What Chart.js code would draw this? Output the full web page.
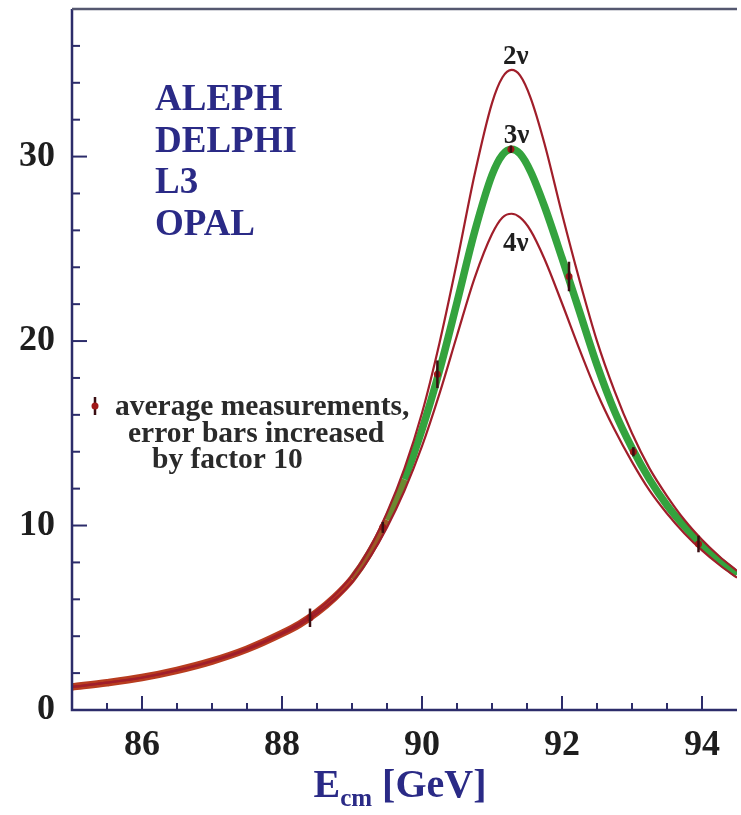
<!DOCTYPE html>
<html>
<head>
<meta charset="utf-8">
<script src="https://cdn.jsdelivr.net/npm/chart.js@4.4.0/dist/chart.umd.min.js"></script>
<style>
  html, body { margin: 0; padding: 0; background: #fff; }
  #wrap { width: 741px; height: 815px; position: relative; }
</style>
</head>
<body>
<div id="wrap"><canvas id="lineshape"></canvas></div>
<script>
// hadronic cross section around the Z pole, for 2, 3 and 4 light neutrinos
const energyGrid = [85.0, 85.5, 86.0, 86.5, 87.0, 87.5, 88.0, 88.25, 88.5, 88.75, 89.0, 89.25, 89.5, 89.75,
  90.0, 90.25, 90.5, 90.75, 91.0, 91.15, 91.28, 91.4, 91.55, 91.75, 92.0, 92.25, 92.5, 92.75,
  93.0, 93.25, 93.5, 93.75, 94.0, 94.25, 94.5];
const sigma2nu = [1.25, 1.48, 1.76, 2.16, 2.67, 3.33, 4.19, 4.72, 5.39, 6.22, 7.28, 8.76, 10.7, 13.1,
  16.1, 19.9, 24.3, 29.0, 32.9, 34.3, 34.7, 34.4, 33.2, 30.7, 26.9, 23.3, 20.0, 17.3,
  15.0, 13.1, 11.6, 10.3, 9.23, 8.32, 7.54];
const sigma3nu = [1.25, 1.48, 1.76, 2.15, 2.65, 3.3, 4.15, 4.65, 5.3, 6.1, 7.1, 8.5, 10.3, 12.5,
  15.2, 18.4, 22.1, 25.9, 29.0, 30.1, 30.4, 30.15, 29.2, 27.3, 24.5, 21.6, 18.7, 16.2,
  14.2, 12.5, 11.1, 9.95, 8.95, 8.1, 7.35];
const sigma4nu = [1.25, 1.48, 1.75, 2.14, 2.63, 3.27, 4.11, 4.59, 5.22, 5.98, 6.92, 8.24, 9.9, 11.9,
  14.3, 17.15, 20.3, 23.4, 25.8, 26.7, 26.9, 26.7, 26.0, 24.45, 22.05, 19.55, 17.2, 15.2,
  13.45, 11.9, 10.65, 9.57, 8.65, 7.86, 7.17];

const measEnergy = [88.4, 89.44, 90.22, 91.27, 92.10, 93.02, 93.95];
const measSigma = [5.0, 9.9, 18.2, 30.4, 23.5, 14.0, 9.0];
const measError = [0.5, 0.3, 0.75, 0.2, 0.8, 0.25, 0.45];

const experiments = ['ALEPH', 'DELPHI', 'L3', 'OPAL'];
const curveLabels = ['2ν', '3ν', '4ν'];
const curveLabelPos = [[91.34, 35.0], [91.35, 30.75], [91.34, 24.9]];
const legendLines = ['average measurements,', 'error bars increased', 'by factor 10'];

const xMajorTicks = [86, 88, 90, 92, 94];
const xMinorTicks = [85.5, 86.5, 87, 87.5, 88.5, 89, 89.5, 90.5, 91, 91.5, 92.5, 93, 93.5];
const yMajorTicks = [0, 10, 20, 30];
const yMinorTicks = [2, 4, 6, 8, 12, 14, 16, 18, 22, 24, 26, 28, 32, 34, 36];

const SERIF = "'Liberation Serif', 'Times New Roman', serif";
const AXIS_COLOR = '#2c2c6a';
const NAVY = '#2a2a86';
const RED = '#a01e2a';
const GREEN = '#34a33e';

const toPoints = (ys) => energyGrid.map((e, i) => ({ x: e, y: ys[i] }));

// tail of the 3 nu band is covered by the red curves in the original
function bandColor(ctx) {
  const e = ctx.p0.parsed.x;
  if (e < 89.0) return '#b83c1f';
  if (e < 89.5) return '#9a5a24';
  if (e < 89.75) return '#6c8a30';
  return GREEN;
}

const decorPlugin = {
  id: 'decor',
  afterDatasetsDraw(chart) {
    const { ctx, scales: { x, y } } = chart;
    ctx.save();
    // error bars (x10)
    ctx.strokeStyle = '#3a0e12';
    ctx.lineWidth = 2.5;
    measEnergy.forEach((e, i) => {
      const px = x.getPixelForValue(e);
      ctx.beginPath();
      ctx.moveTo(px, y.getPixelForValue(measSigma[i] - measError[i]));
      ctx.lineTo(px, y.getPixelForValue(measSigma[i] + measError[i]));
      ctx.stroke();
    });
    ctx.restore();
  },
  afterDraw(chart) {
    const { ctx, chartArea: a, scales: { x, y } } = chart;
    ctx.save();

    // frame
    ctx.strokeStyle = AXIS_COLOR;
    ctx.lineWidth = 2.5;
    ctx.beginPath();
    ctx.moveTo(a.left, a.top);
    ctx.lineTo(a.left, a.bottom);
    ctx.lineTo(a.right, a.bottom);
    ctx.stroke();
    ctx.strokeStyle = '#555870';
    ctx.beginPath();
    ctx.moveTo(a.left, a.top);
    ctx.lineTo(a.right, a.top);
    ctx.stroke();

    // inward ticks
    ctx.strokeStyle = AXIS_COLOR;
    ctx.lineWidth = 2;
    const xTick = (v, len) => {
      const px = x.getPixelForValue(v);
      ctx.beginPath(); ctx.moveTo(px, a.bottom); ctx.lineTo(px, a.bottom - len); ctx.stroke();
    };
    const yTick = (v, len) => {
      const py = y.getPixelForValue(v);
      ctx.beginPath(); ctx.moveTo(a.left, py); ctx.lineTo(a.left + len, py); ctx.stroke();
    };
    xMajorTicks.forEach(v => xTick(v, 14));
    xMinorTicks.forEach(v => xTick(v, 7));
    yMajorTicks.forEach(v => yTick(v, 15));
    yMinorTicks.forEach(v => yTick(v, 8));

    // experiments
    ctx.fillStyle = NAVY;
    ctx.font = 'bold 37px ' + SERIF;
    ctx.textAlign = 'left';
    ctx.textBaseline = 'alphabetic';
    experiments.forEach((name, i) => ctx.fillText(name, 155, 110 + i * 41.5));

    // curve labels
    ctx.fillStyle = '#1e1e1e';
    ctx.font = 'bold 27px ' + SERIF;
    ctx.textAlign = 'center';
    curveLabels.forEach((t, i) => {
      ctx.fillText(t, x.getPixelForValue(curveLabelPos[i][0]), y.getPixelForValue(curveLabelPos[i][1]));
    });

    // legend for the measurements
    ctx.strokeStyle = '#3a0e12';
    ctx.lineWidth = 2.5;
    ctx.beginPath(); ctx.moveTo(95, 397); ctx.lineTo(95, 415); ctx.stroke();
    ctx.fillStyle = '#a01818';
    ctx.beginPath(); ctx.arc(95, 406, 3.5, 0, Math.PI * 2); ctx.fill();
    ctx.fillStyle = '#2a2a2a';
    ctx.font = 'bold 29.5px ' + SERIF;
    ctx.textAlign = 'left';
    ctx.fillText(legendLines[0], 115, 415);
    ctx.fillText(legendLines[1], 128, 442);
    ctx.fillText(legendLines[2], 152, 468);

    // x axis title with subscript
    ctx.fillStyle = NAVY;
    const big = 'bold 40px ' + SERIF, small = 'bold 25px ' + SERIF;
    ctx.font = big; const wE = ctx.measureText('E').width; const wRest = ctx.measureText(' [GeV]').width;
    ctx.font = small; const wSub = ctx.measureText('cm').width;
    let tx = 400 - (wE + wSub + wRest) / 2;
    const base = 797;
    ctx.font = big; ctx.fillText('E', tx, base); tx += wE;
    ctx.font = small; ctx.fillText('cm', tx, base + 9); tx += wSub;
    ctx.font = big; ctx.fillText(' [GeV]', tx, base);

    ctx.restore();
  }
};

new Chart(document.getElementById('lineshape'), {
  type: 'line',
  data: {
    datasets: [
      {
        type: 'scatter', label: 'average measurements',
        data: measEnergy.map((e, i) => ({ x: e, y: measSigma[i] })),
        pointRadius: 3.5, pointBackgroundColor: '#a01818', pointBorderWidth: 0
      },
      { label: '2ν', data: toPoints(sigma2nu), borderColor: RED, borderWidth: 2.2, pointRadius: 0, cubicInterpolationMode: 'monotone' },
      { label: '4ν', data: toPoints(sigma4nu), borderColor: RED, borderWidth: 2.2, pointRadius: 0, cubicInterpolationMode: 'monotone' },
      {
        label: '3ν', data: toPoints(sigma3nu), borderColor: GREEN, borderWidth: 7.5, pointRadius: 0,
        cubicInterpolationMode: 'monotone', segment: { borderColor: bandColor }
      }
    ]
  },
  options: {
    responsive: true,
    maintainAspectRatio: false,
    devicePixelRatio: 1,
    animation: false,
    layout: { padding: { top: 9, right: 0, left: 0, bottom: 0 } },
    plugins: { legend: { display: false }, tooltip: { enabled: false } },
    scales: {
      x: {
        type: 'linear', min: 85, max: 94.5,
        afterBuildTicks: s => { s.ticks = xMajorTicks.map(v => ({ value: v })); },
        afterFit: s => { s.height = 105; s.paddingLeft = 0; s.paddingRight = 0; },
        grid: { display: false, drawTicks: false },
        border: { display: false },
        ticks: { color: '#1e1e1e', padding: 14, maxRotation: 0, font: { family: SERIF, size: 36, weight: 'bold' } }
      },
      y: {
        type: 'linear', min: 0, max: 38,
        afterBuildTicks: s => { s.ticks = yMajorTicks.map(v => ({ value: v })); },
        afterFit: s => { s.width = 72; s.paddingTop = 0; s.paddingBottom = 0; },
        grid: { display: false, drawTicks: false },
        border: { display: false },
        ticks: { color: '#1e1e1e', padding: 17, font: { family: SERIF, size: 36, weight: 'bold' } }
      }
    }
  },
  plugins: [decorPlugin]
});
</script>
</body>
</html>
